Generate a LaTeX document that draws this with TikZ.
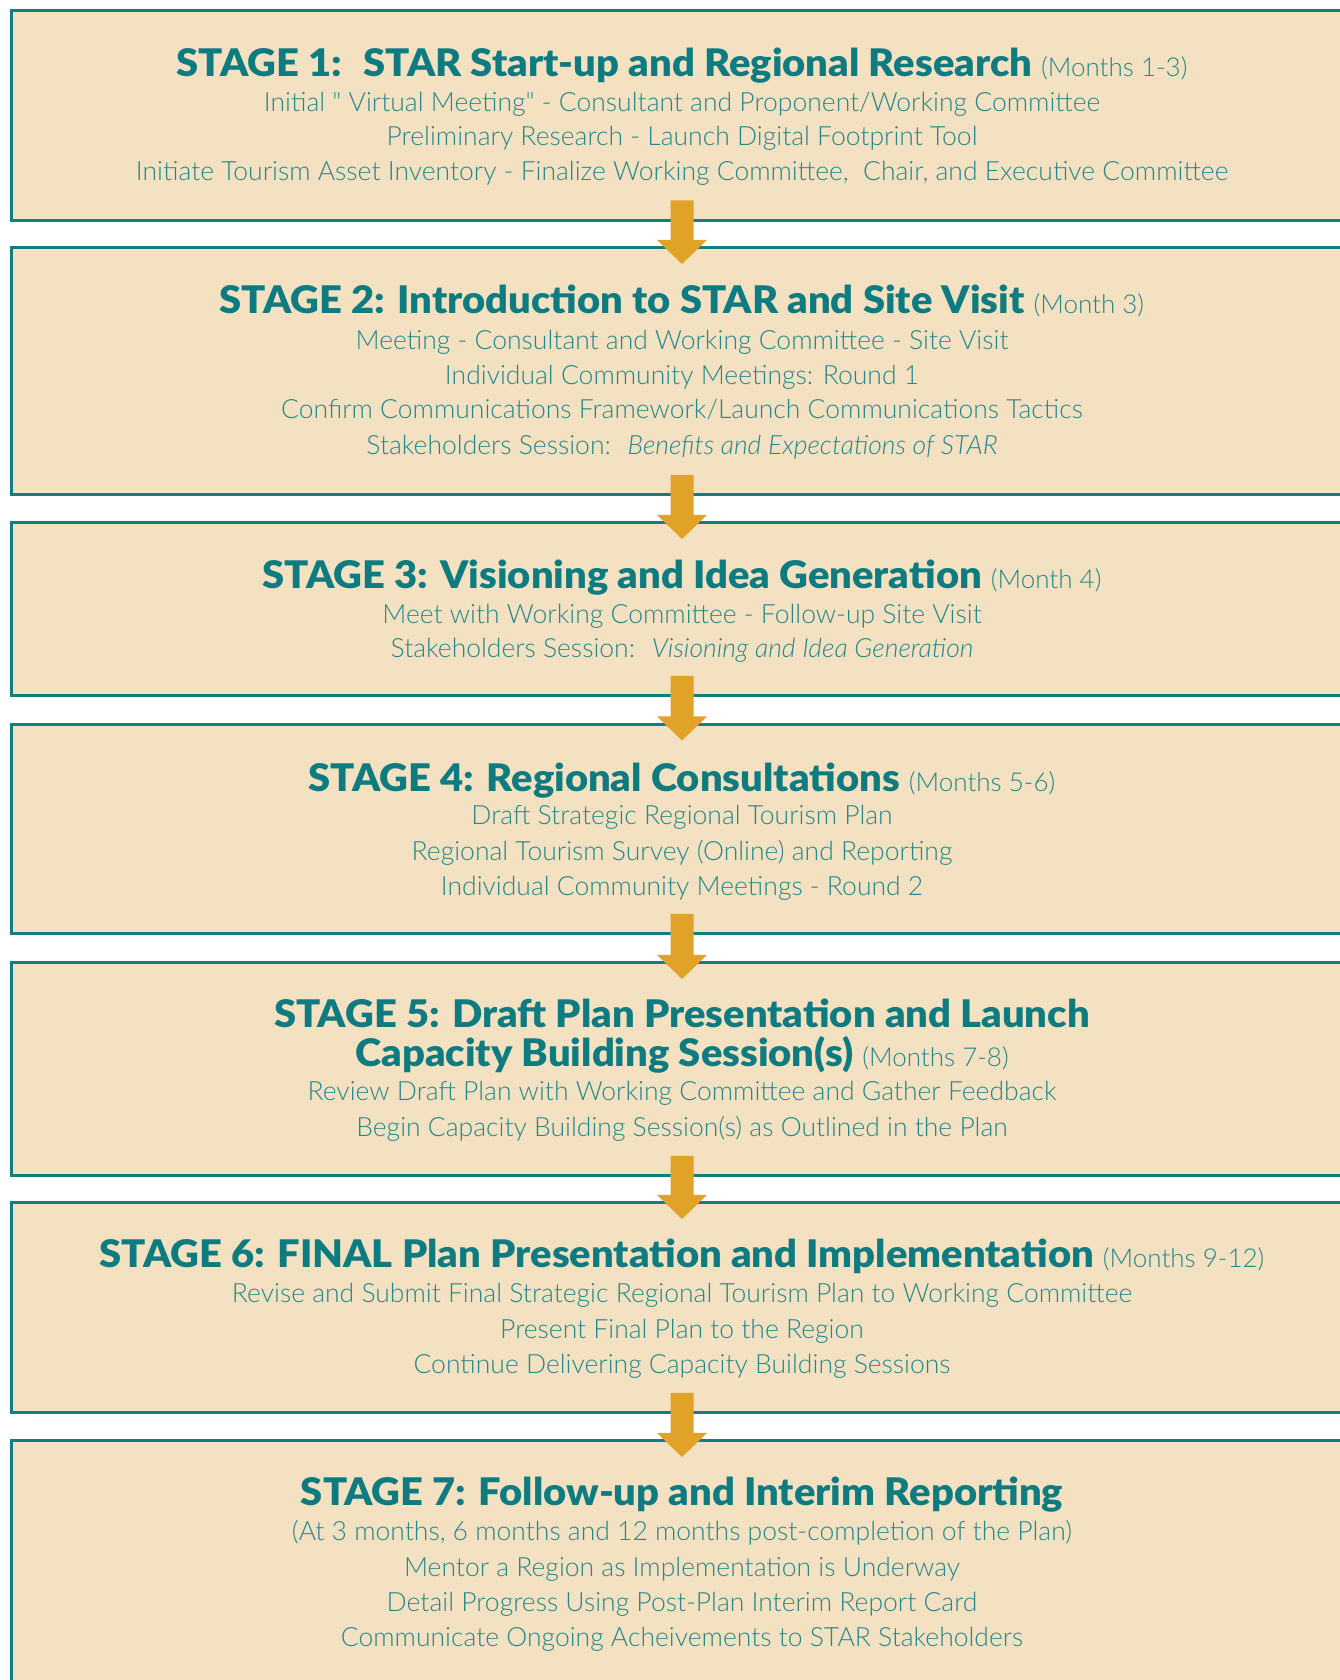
\documentclass[tikz,border=0pt]{standalone}
\usepackage{fontspec}
\setmainfont{Lato}
\newfontfamily\lightf{Lato Light}[ItalicFont={Lato Light Italic}]
\newfontfamily\blackf{Lato Black}[FakeStretch=1.05]
\usetikzlibrary{calc}
\definecolor{boxfill}{HTML}{F3E1C1}
\definecolor{boxline}{HTML}{127E81}
\definecolor{headc}{HTML}{0E7B80}
\definecolor{bodyc}{HTML}{21888B}
\definecolor{arrowc}{HTML}{E1A228}
\newcommand{\monthstxt}[1]{{\lightf\fontsize{26}{30}\selectfont\color{bodyc}#1}}
\newcommand{\stagearrow}[2]{\fill[arrowc] ($(#1.south)+(-11.5,20)$) -- ($(#1.south)+(11.5,20)$) -- ($(#2.north)+(11.5,8)$) -- ($(#2.north)+(25,8)$) -- ($(#2.north)+(0,-16)$) -- ($(#2.north)+(-25,8)$) -- ($(#2.north)+(-11.5,8)$) -- cycle;}
\tikzset{
  stagebox/.style={draw=boxline, line width=3pt, fill=boxfill, minimum width=1342pt, outer sep=0pt, inner sep=0pt},
  headtxt/.style={anchor=base, text=headc, inner sep=0pt, font=\blackf\fontsize{38}{40}\selectfont},
  bodytxt/.style={anchor=base, text=bodyc, inner sep=0pt, font=\lightf\fontsize{26.5}{30}\selectfont}
}
\begin{document}
\begin{tikzpicture}[x=1pt,y=1pt]
\clip (0,0) rectangle (1340,1680);
\fill[white] (0,0) rectangle (1340,1680);
% boxes
\node[stagebox, minimum height=209.5pt] (b1) at (682,1564.25) {};
\node[stagebox, minimum height=247pt] (b2) at (682,1308.5) {};
\node[stagebox, minimum height=173pt] (b3) at (682,1070.5) {};
\node[stagebox, minimum height=209.5pt] (b4) at (682,850.75) {};
\node[stagebox, minimum height=213pt] (b5) at (682,610.5) {};
\node[stagebox, minimum height=210pt] (b6) at (682,372) {};
\node[stagebox, minimum height=269pt] (b7) at (682,104.5) {};
% arrows
\stagearrow{b1}{b2}
\stagearrow{b2}{b3}
\stagearrow{b3}{b4}
\stagearrow{b4}{b5}
\stagearrow{b5}{b6}
\stagearrow{b6}{b7}
% stage 1
\node[headtxt] (h1) at (682,1603) {STAGE 1:~ STAR Start-up and Regional Research \monthstxt{(Months 1-3)}};
\node[bodytxt] (t11) at (682,1568) {Initial " Virtual Meeting" - Consultant and Proponent/Working Committee};
\node[bodytxt] (t12) at (682,1534) {Preliminary Research - Launch Digital Footprint Tool};
\node[bodytxt] (t13) at (682,1499) {Initiate Tourism Asset Inventory - Finalize Working Committee,~ Chair, and Executive Committee};
% stage 2
\node[headtxt] (h2) at (682,1366) {STAGE 2: Introduction to STAR and Site Visit \monthstxt{(Month 3)}};
\node[bodytxt] (t21) at (682,1330) {Meeting - Consultant and Working Committee - Site Visit};
\node[bodytxt] (t22) at (682,1295) {Individual Community Meetings: Round 1};
\node[bodytxt] (t23) at (682,1261) {Confirm Communications Framework/Launch Communications Tactics};
\node[bodytxt] (t24) at (682,1225) {Stakeholders Session:~ \textit{Benefits and Expectations of STAR}};
% stage 3
\node[headtxt] (h3) at (682,1091) {STAGE 3: Visioning and Idea Generation \monthstxt{(Month 4)}};
\node[bodytxt] (t31) at (682,1056) {Meet with Working Committee - Follow-up Site Visit};
\node[bodytxt] (t32) at (682,1022) {Stakeholders Session:~ \textit{Visioning and Idea Generation}};
% stage 4
\node[headtxt] (h4) at (682,888) {STAGE 4: Regional Consultations \monthstxt{(Months 5-6)}};
\node[bodytxt] (t41) at (682,855) {Draft Strategic Regional Tourism Plan};
\node[bodytxt] (t42) at (682,819) {Regional Tourism Survey (Online) and Reporting};
\node[bodytxt] (t43) at (682,784) {Individual Community Meetings - Round 2};
% stage 5
\node[headtxt] (h5a) at (682,652) {STAGE 5: Draft Plan Presentation and Launch};
\node[headtxt] (h5b) at (682,613) {Capacity Building Session(s) \monthstxt{(Months 7-8)}};
\node[bodytxt] (t51) at (682,579) {Review Draft Plan with Working Committee and Gather Feedback};
\node[bodytxt] (t52) at (682,543) {Begin Capacity Building Session(s) as Outlined in the Plan};
% stage 6
\node[headtxt] (h6) at (682,412) {STAGE 6: FINAL Plan Presentation and Implementation \monthstxt{(Months 9-12)}};
\node[bodytxt] (t61) at (682,377) {Revise and Submit Final Strategic Regional Tourism Plan to Working Committee};
\node[bodytxt] (t62) at (682,341) {Present Final Plan to the Region};
\node[bodytxt] (t63) at (682,306) {Continue Delivering Capacity Building Sessions};
% stage 7
\node[headtxt] (h7) at (682,174) {STAGE 7: Follow-up and Interim Reporting};
\node[bodytxt] (t71) at (682,139) {(At 3 months, 6 months and 12 months post-completion of the Plan)};
\node[bodytxt] (t72) at (682,103) {Mentor a Region as Implementation is Underway};
\node[bodytxt] (t73) at (682,68) {Detail Progress Using Post-Plan Interim Report Card};
\node[bodytxt] (t74) at (682,33) {Communicate Ongoing Acheivements to STAR Stakeholders};
\end{tikzpicture}
\end{document}
